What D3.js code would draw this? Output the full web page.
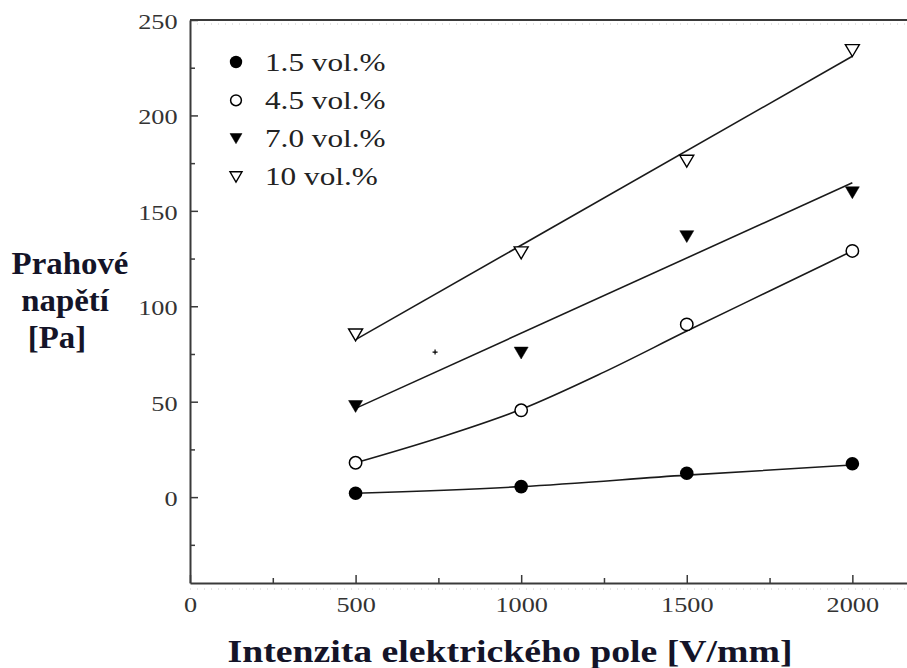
<!DOCTYPE html>
<html>
<head>
<meta charset="utf-8">
<script src="https://cdn.jsdelivr.net/npm/d3@7"></script>
<style>
  body { margin: 0; background: #fff; }
  svg { display: block; font-family: "Liberation Serif", "Times New Roman", serif; }
</style>
</head>
<body>
<div id="wrapper"></div>
<script>
// 1. Data
const fields = [500, 1000, 1500, 2000]
const seriesNames = ["1.5 vol.%", "4.5 vol.%", "7.0 vol.%", "10 vol.%"]
const vol15 = [2, 5.5, 12.5, 17.5]
const vol45 = [18, 45.5, 90.5, 129]
const vol70 = [47.5, 75.5, 136.5, 159.5]
const vol10 = [85, 128, 176, 234]

// fitted curves
const fit15Fields = [500, 1000, 1500, 2000]
const fit15 = [2, 5.5, 11.5, 16.8]
const fit45Fields = [500, 750, 1000, 1250, 1500, 1750, 2000]
const fit45 = [18, 31, 46, 65.5, 87, 108, 129]
const fit70Fields = [500, 2000]
const fit70 = [46.5, 164.7]
const fit10Fields = [500, 2000]
const fit10 = [82.5, 231]

// stray mark in the original figure
const strayMark = [740, 76]

const xTicks = [0, 500, 1000, 1500, 2000]
const xMinorTicks = [250, 750, 1250, 1750]
const yTicks = [0, 50, 100, 150, 200, 250]
const yMinorTicks = [-25, 25, 75, 125, 175, 225]

// 2. Dimensions
const width = 907
const height = 668
const stretch = 1.25 // text in the source is horizontally stretched

const xScale = d3.scaleLinear().domain([0, 2165]).range([190, 907])
const yScale = d3.scaleLinear().domain([-45, 250]).range([583, 20])

// 3. Canvas
const svg = d3.select("#wrapper")
  .append("svg")
  .attr("width", width)
  .attr("height", height)

// faint dotted guide lines along top and bottom edges
svg.append("line")
  .attr("x1", xScale(0)).attr("x2", width)
  .attr("y1", yScale(250) + 4).attr("y2", yScale(250) + 4)
  .style("stroke", "#ccc").style("stroke-dasharray", "1 6")
svg.append("line")
  .attr("x1", xScale(0)).attr("x2", width)
  .attr("y1", yScale(-45) + 6).attr("y2", yScale(-45) + 6)
  .style("stroke", "#ccc").style("stroke-dasharray", "1 6")

// 4. Axes
const axisColor = "#3a3a3a"
const fmt = d3.format("d")

const yAxis = svg.append("g")
  .attr("transform", `translate(${xScale(0)},0)`)
  .call(d3.axisLeft(yScale).tickValues(yTicks).tickFormat(fmt).tickSize(-8).tickSizeOuter(0).tickPadding(10))
const yMinor = svg.append("g")
  .attr("transform", `translate(${xScale(0)},0)`)
  .call(d3.axisLeft(yScale).tickValues(yMinorTicks).tickSize(-5).tickFormat(""))
yMinor.select(".domain").remove()

const xAxis = svg.append("g")
  .attr("transform", `translate(0,${yScale(-45)})`)
  .call(d3.axisBottom(xScale).tickValues(xTicks).tickFormat(fmt).tickSize(-8).tickSizeOuter(0).tickPadding(14))
const xMinor = svg.append("g")
  .attr("transform", `translate(0,${yScale(-45)})`)
  .call(d3.axisBottom(xScale).tickValues(xMinorTicks).tickSize(-5).tickFormat(""))
xMinor.select(".domain").remove()

;[yAxis, xAxis, yMinor, xMinor].forEach(ax => {
  ax.attr("font-family", null)
  ax.selectAll(".domain").style("stroke", axisColor).style("stroke-width", 2)
  ax.selectAll(".tick line").style("stroke", axisColor).style("stroke-width", 1.5)
  ax.selectAll(".tick text")
    .attr("transform", `scale(${stretch},1)`)
    .style("font-family", "'Liberation Serif', serif")
    .style("font-size", "21px")
    .style("fill", "#333")
})
yAxis.selectAll(".tick text").attr("dy", "0.4em")

// top frame line
svg.append("line")
  .attr("x1", xScale(0)).attr("x2", width)
  .attr("y1", yScale(250)).attr("y2", yScale(250))
  .style("stroke", axisColor).style("stroke-width", 2)

// 5. Fitted curves
const fits = [
  [fit15Fields, fit15, d3.curveMonotoneX],
  [fit45Fields, fit45, d3.curveMonotoneX],
  [fit70Fields, fit70, d3.curveLinear],
  [fit10Fields, fit10, d3.curveLinear],
]
fits.forEach(([fx, fy, curve]) => {
  const line = d3.line()
    .x((d, i) => xScale(fx[i]))
    .y(d => yScale(d))
    .curve(curve)
  svg.append("path")
    .attr("d", line(fy))
    .style("fill", "none")
    .style("stroke", "#1a1a1a")
    .style("stroke-width", 1.6)
})

// 6. Markers
const triangleDown = (s) => d3.symbol().type({
  draw(ctx, size) {
    const w = Math.sqrt(size)
    const h = w * 0.85
    ctx.moveTo(-w / 2, -h / 2)
    ctx.lineTo(w / 2, -h / 2)
    ctx.lineTo(0, h / 2)
    ctx.closePath()
  }
}).size(s * s)()

const markerStyles = [
  { kind: "circle", fill: "#000" },
  { kind: "circle", fill: "#fff" },
  { kind: "tri", fill: "#000" },
  { kind: "tri", fill: "#fff" },
]

function drawMarker(g, style, big) {
  if (style.kind === "circle") {
    const r = style.fill === "#000" ? (big ? 6.8 : 6.2) : (big ? 6.2 : 5.4)
    g.append("circle")
      .attr("r", r)
      .style("fill", style.fill)
      .style("stroke", "#000")
      .style("stroke-width", style.fill === "#000" ? 0 : 1.5)
  } else {
    g.append("path")
      .attr("d", triangleDown(big ? 14 : 12))
      .style("fill", style.fill)
      .style("stroke", "#000")
      .style("stroke-width", style.fill === "#000" ? 0.5 : 1.4)
  }
}

const allSeries = [vol15, vol45, vol70, vol10]
allSeries.forEach((vals, si) => {
  vals.forEach((v, i) => {
    const g = svg.append("g")
      .attr("transform", `translate(${xScale(fields[i])},${yScale(v)})`)
    drawMarker(g, markerStyles[si], true)
  })
})

// stray "+" mark
svg.append("path")
  .attr("transform", `translate(${xScale(strayMark[0])},${yScale(strayMark[1])})`)
  .attr("d", "M-2.5,0H2.5M0,-2.5V2.5")
  .style("stroke", "#000")
  .style("stroke-width", 1.2)

// 7. Legend
const legend = svg.append("g").attr("transform", "translate(236,62)")
seriesNames.forEach((name, i) => {
  const row = legend.append("g").attr("transform", `translate(0,${i * 38.3})`)
  drawMarker(row, markerStyles[i], false)
  row.append("text")
    .attr("transform", `translate(29,0) scale(${stretch},1)`)
    .attr("dy", "0.34em")
    .text(name)
    .style("font-size", "25px")
    .style("fill", "#222")
})

// 8. Axis titles
const titleColor = "#141428"
const yTitle = [["Prahové", 70, 274], ["napětí", 65, 311], ["[Pa]", 57, 348]]
yTitle.forEach(([t, x, y]) => {
  svg.append("text")
    .attr("transform", `translate(${x},${y}) scale(1.06,1)`)
    .attr("text-anchor", "middle")
    .text(t)
    .style("font-size", "31px")
    .style("font-weight", "bold")
    .style("fill", titleColor)
})

svg.append("text")
  .attr("transform", `translate(510,662) scale(1.18,1)`)
  .attr("text-anchor", "middle")
  .text("Intenzita elektrického pole [V/mm]")
  .style("font-size", "32px")
  .style("font-weight", "bold")
  .style("fill", titleColor)
</script>
</body>
</html>
